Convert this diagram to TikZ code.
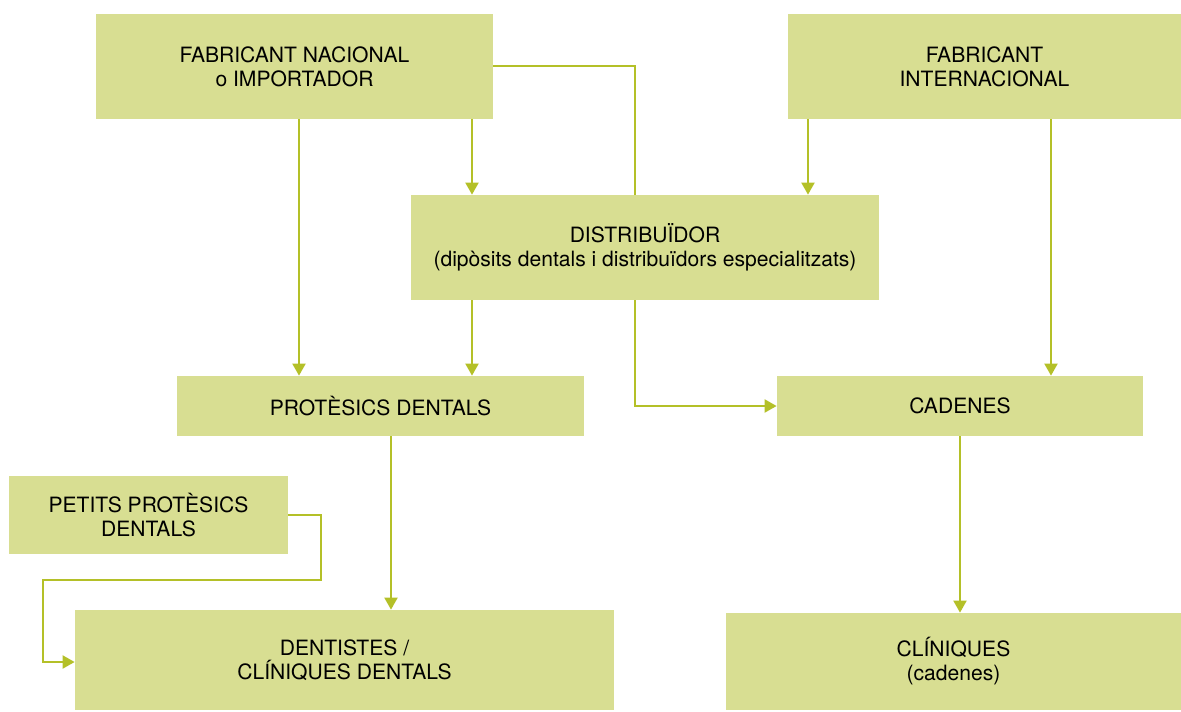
\documentclass[tikz,border=0pt]{standalone}
\usepackage{fontspec}
\setmainfont{TeX Gyre Heros}
\usepackage{tikz}
\usetikzlibrary{positioning,calc,arrows.meta}
\definecolor{BoxGreen}{RGB}{216,222,146}
\definecolor{LineGreen}{RGB}{180,192,40}

\begin{document}
\begin{tikzpicture}[x=0.02cm,y=-0.02cm,
  box/.style={fill=BoxGreen,draw=none,align=center,inner sep=0pt,font=\fontsize{12}{13.6}\selectfont},
  link/.style={draw=LineGreen,line width=1.1pt},
  arr/.style={link,-{Triangle[length=0.24cm,width=0.26cm]}}]
\useasboundingbox (0,0) rectangle (1181,711);
% boxes
\node[box,minimum width=397*0.02cm,minimum height=105*0.02cm] (nacional) at (294.5,66.5) {FABRICANT NACIONAL\\o IMPORTADOR};
\node[box,minimum width=393*0.02cm,minimum height=105*0.02cm] (internac) at (984.5,66.5) {FABRICANT\\INTERNACIONAL};
\node[box,minimum width=468*0.02cm,minimum height=105*0.02cm] (distrib) at (645,247.5) {DISTRIBUÏDOR\\(dipòsits dentals i distribuïdors especialitzats)};
\node[box,minimum width=407*0.02cm,minimum height=60*0.02cm] (protesics) at (380.5,406) {PROTÈSICS DENTALS};
\node[box,minimum width=366*0.02cm,minimum height=60*0.02cm] (cadenes) at (960,406) {CADENES};
\node[box,minimum width=279*0.02cm,minimum height=78*0.02cm] (petits) at (148.5,515) {PETITS PROTÈSICS\\DENTALS};
\node[box,minimum width=539*0.02cm,minimum height=100*0.02cm] (dentistes) at (344.5,660) {DENTISTES /\\CLÍNIQUES DENTALS};
\node[box,minimum width=455*0.02cm,minimum height=97*0.02cm] (cliniques) at (953.5,661.5) {CLÍNIQUES\\(cadenes)};
% connectors
\draw[arr] (nacional.south -| 299,0) -- (protesics.north -| 299,0);
\draw[arr] (nacional.south -| 472,0) -- (distrib.north -| 472,0);
\draw[link] (nacional.east |- 0,66) -| (distrib.north -| 635,0);
\draw[arr] (internac.south -| 808,0) -- (distrib.north -| 808,0);
\draw[arr] (internac.south -| 1051,0) -- (cadenes.north -| 1051,0);
\draw[arr] (distrib.south -| 472,0) -- (protesics.north -| 472,0);
\draw[arr] (distrib.south -| 635,0) |- (cadenes.west);
\draw[arr] (protesics.south -| 391,0) -- (dentistes.north -| 391,0);
\draw[arr] (petits.east) -- (321,515) -- (321,580) -- (43,580) |- (dentistes.west |- 0,662);
\draw[arr] (cadenes.south) -- (cliniques.north -| cadenes.south);
\end{tikzpicture}
\end{document}
